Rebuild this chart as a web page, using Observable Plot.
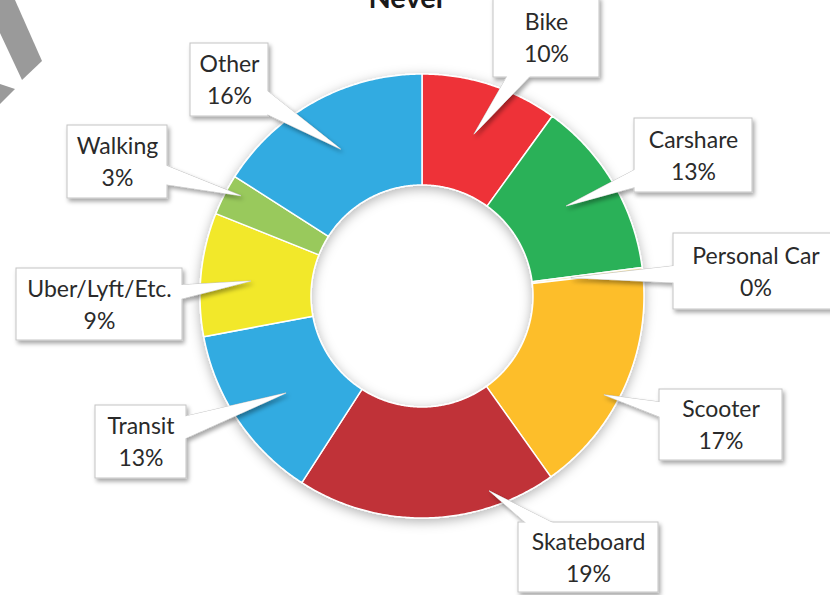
<!DOCTYPE html>
<html><head><meta charset="utf-8">
<script src="https://cdn.jsdelivr.net/npm/d3@7"></script>
<script src="https://cdn.jsdelivr.net/npm/@observablehq/plot@0.6"></script>
<style>
html,body{margin:0;padding:0;background:#fff;overflow:hidden}
#chart{position:relative;width:830px;height:595px}
</style></head><body><div id="chart"></div>
<script>
// ---- data ----
const title = "Never";
const categories = ["Bike","Carshare","Personal Car","Scooter","Skateboard","Transit","Uber/Lyft/Etc.","Walking","Other"];
const shares = [10, 13, 0.25, 17, 19, 13, 9, 3, 16];
const colors = ["#EE3237","#2CB159","#F6E3A6","#FDBE2C","#C03037","#31ABE1","#F2E82B","#99C95B","#31ABE1"];

// ---- layout (page pixels) ----
const W = 830, H = 595, CX = 421.5, CY = 295.5, R_OUT = 222, R_IN = 111;
const boxes = [[493,-3,599,77],[634,118,752,192],[673,233,838,309],[659,389,782,460],[518,522,658,592],[95,405,186,478],[16,268,182,340],[67,125,167,198],[190,43,268,116]];
const tips = [[17.8,170],[58,170],[83,150],[118.5,207],[161,206],[234.5,167],[275,172],[299,207],[331,168]];

const total = d3.sum(shares);
const rad = a => a * Math.PI / 180;
const pt = (a, r) => [r * Math.sin(rad(a)), -r * Math.cos(rad(a))];
let acc = 0;
const slices = categories.map((name, i) => {
  const a0 = acc / total * 360; acc += shares[i]; const a1 = acc / total * 360;
  return {name, a0, a1, color: colors[i], pct: Math.round(shares[i] / total * 100) + "%"};
});
const ringPts = slices.flatMap(s => {
  const n = Math.max(2, Math.ceil((s.a1 - s.a0) / 0.5));
  const outer = d3.range(n + 1).map(k => pt(s.a0 + (s.a1 - s.a0) * k / n, R_OUT));
  const inner = d3.range(n + 1).map(k => pt(s.a1 - (s.a1 - s.a0) * k / n, R_IN));
  return [...outer, ...inner].map(([x, y]) => ({name: s.name, x, y, color: s.color}));
});
const boxData = slices.map((s, i) => {
  const [x1, y1, x2, y2] = boxes[i];
  return {name: s.name, pct: s.pct, x1: x1 - CX, x2: x2 - CX, y1: y1 - CY, y2: y2 - CY,
          cx: (x1 + x2) / 2 - CX, cy: (y1 + y2) / 2 - CY};
});
const wedgePts = boxData.flatMap((b, i) => {
  const [tx, ty] = pt(tips[i][0], tips[i][1]);
  const dx = tx - b.cx, dy = ty - b.cy, L = Math.hypot(dx, dy);
  const px = -dy / L, py = dx / L, hw = 15;
  return [[b.cx + px * hw, b.cy + py * hw], [tx, ty], [b.cx - px * hw, b.cy - py * hw]]
    .map(([x, y]) => ({name: b.name, x, y}));
});

const plot = Plot.plot({
  width: W, height: H, margin: 0,
  x: {domain: [-CX, W - CX], range: [0, W], axis: null},
  y: {domain: [-CY, H - CY], range: [0, H], axis: null},
  color: {type: "identity"},
  style: {fontFamily: "Lato, 'Open Sans', sans-serif", background: "transparent", overflow: "visible"},
  marks: [
    Plot.line(ringPts, {x: "x", y: "y", z: "name", fill: "color", stroke: "white", strokeWidth: 1.5, curve: "linear-closed"}),
    Plot.line(wedgePts, {x: "x", y: "y", z: "name", fill: "white", stroke: "#c4c4c4", strokeWidth: 1, curve: "linear-closed"}),
    Plot.rect(boxData, {x1: "x1", x2: "x2", y1: "y1", y2: "y2", fill: "white", stroke: "#c4c4c4", strokeWidth: 1}),
    Plot.line(wedgePts, {x: "x", y: "y", z: "name", fill: "white", stroke: "none", curve: "linear-closed"}),
    Plot.text(boxData, {x: "cx", y: d => d.cy - 15, text: "name", fontSize: 23, fill: "#2a2a2a"}),
    Plot.text(boxData, {x: "cx", y: d => d.cy + 17, text: "pct", fontSize: 23, fill: "#2a2a2a"}),
    Plot.text([title], {x: 407 - CX, y: 7 - CY, text: d => d, fontSize: 29, fontWeight: "bold", fill: "#1a1a1a", lineAnchor: "bottom"})
  ]
});

try {
  const svg = d3.select(plot);
  const markGroups = Array.from(plot.children).filter(n => n.tagName.toLowerCase() === "g");
  const defs = svg.insert("defs", ":first-child");
  const f1 = defs.append("filter").attr("id", "ringShadow").attr("x", "-20%").attr("y", "-20%").attr("width", "140%").attr("height", "140%");
  f1.append("feDropShadow").attr("dx", 0).attr("dy", 3).attr("stdDeviation", 6).attr("flood-color", "#000").attr("flood-opacity", 0.3);
  const f2 = defs.append("filter").attr("id", "boxShadow").attr("x", "-20%").attr("y", "-20%").attr("width", "140%").attr("height", "140%");
  f2.append("feDropShadow").attr("dx", 2).attr("dy", 3).attr("stdDeviation", 2).attr("flood-color", "#000").attr("flood-opacity", 0.35);
  if (markGroups.length >= 4) {
    markGroups[0].setAttribute("filter", "url(#ringShadow)");
    const grp = document.createElementNS("http://www.w3.org/2000/svg", "g");
    grp.setAttribute("filter", "url(#boxShadow)");
    plot.insertBefore(grp, markGroups[1]);
    [markGroups[1], markGroups[2], markGroups[3]].forEach(n => grp.appendChild(n));
  }
  const wm = svg.append("g").attr("fill", "#9a9a9a");
  wm.append("path").attr("d", "M0,0 L15,0 L42,61 L22,80 L0,33 Z");
  wm.append("path").attr("d", "M0,84 L15,89 L0,104 Z");
} catch (e) { console.error(e); }

document.getElementById("chart").appendChild(plot);
</script></body></html>
